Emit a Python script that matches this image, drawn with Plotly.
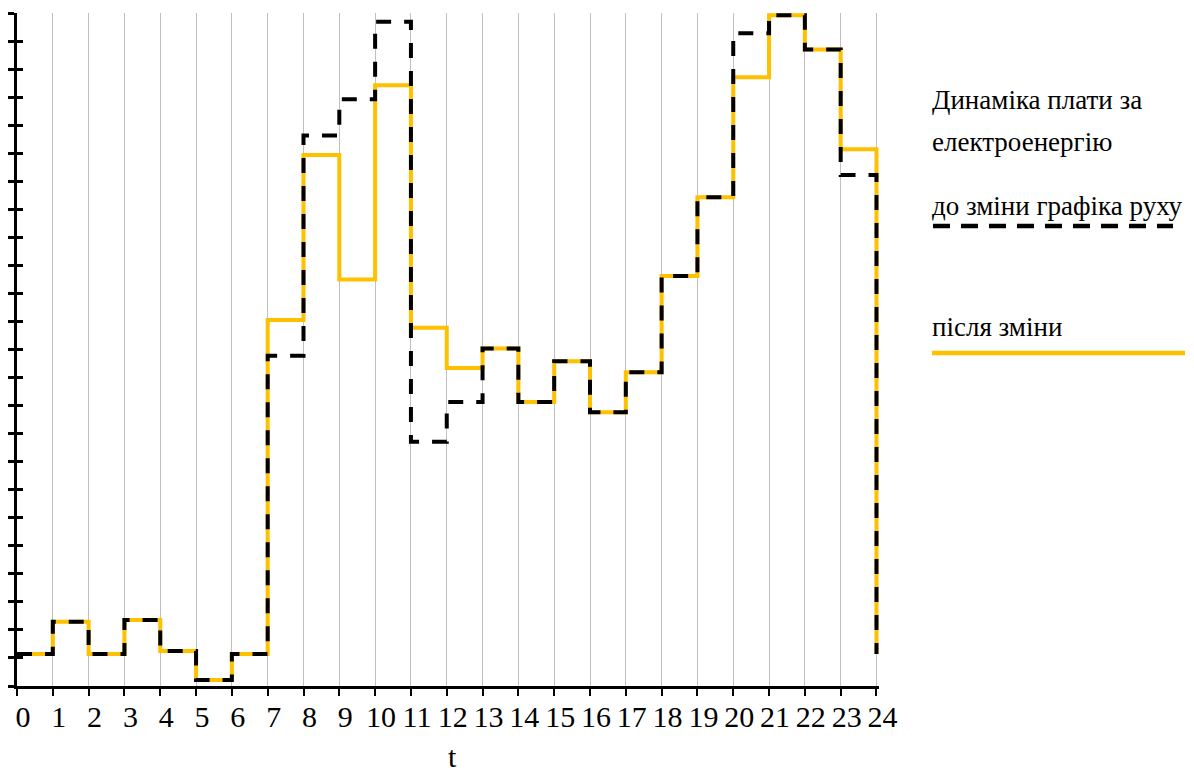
import plotly.graph_objects as go

hours = list(range(25))
tick_labels = [str(h) for h in hours]
before = [1.14, 2.29, 1.14, 2.35, 1.25, 0.21, 1.14, 11.78, 19.63, 20.92, 23.69, 8.71,
          10.13, 12.04, 10.13, 11.58, 9.76, 11.19, 14.62, 17.43, 23.28, 23.92, 22.70, 18.22, 1.14]
after = [1.14, 2.29, 1.14, 2.35, 1.25, 0.21, 1.14, 13.05, 18.94, 14.50, 21.42, 12.78,
         11.34, 12.04, 10.13, 11.58, 9.76, 11.19, 14.62, 17.43, 21.71, 23.92, 22.70, 19.14, 1.14]

x_title = "t"
legend_title = ["Динаміка плати за", "електроенергію"]
name_before = "до зміни графіка руху"
name_after = "після зміни"

FONT = "Liberation Serif, Times New Roman, serif"
ORANGE = "#FFC000"

OFF = 8                      # page body offset
X_MAX = 24.07                # a little room so the final drop at t=24 is not clipped
W, H = 1194 - OFF, 774 - OFF
PL, PT, PR, PB = 17, 13, 879, 686
L, T = PL - OFF, PT - OFF
R, B = W - (PR - OFF), H - (PB - OFF)
pw, ph = W - L - R, H - T - B


def px(x):
    return (x - PL) / pw


def py(y):
    return (PB - y) / ph


fig = go.Figure()
fig.add_trace(go.Scatter(x=hours, y=after, mode="lines", line_shape="hv",
                         line=dict(color=ORANGE, width=4), name=name_after,
                         showlegend=False))
fig.add_trace(go.Scatter(x=hours, y=before, mode="lines", line_shape="hv",
                         line=dict(color="black", width=4, dash="15px,13px"),
                         name=name_before, showlegend=False, yaxis="y2"))

fig.update_layout(
    width=W, height=H,
    margin=dict(l=L, r=R, t=T, b=B),
    paper_bgcolor="white", plot_bgcolor="white",
    font=dict(family=FONT, color="black"),
    xaxis=dict(range=[0, X_MAX], tickvals=hours, ticktext=tick_labels, tickangle=0,
               showgrid=True, gridcolor="#c0c0c0", gridwidth=1, zeroline=False,
               showline=True, linecolor="black", linewidth=3,
               ticks="outside", ticklen=7, tickwidth=2, tickcolor="black",
               tickfont=dict(family=FONT, size=30, color="black"),
               ticklabelshift=6, ticklabelstandoff=-5,
               automargin=False),
    yaxis=dict(range=[0, 24], dtick=1, tick0=0, showgrid=False, zeroline=False,
               showline=True, linecolor="black", linewidth=3,
               ticks="outside", ticklen=6, tickwidth=3, tickcolor="black",
               showticklabels=False, automargin=False),
    yaxis2=dict(range=[0, 24], dtick=1, tick0=0, overlaying="y", side="left",
                showgrid=False, zeroline=False, showline=False,
                ticks="inside", ticklen=6, tickwidth=3, tickcolor="black",
                showticklabels=False, automargin=False),
    showlegend=False,
)

# axis title "t" placed as in the reference
fig.add_annotation(xref="paper", yref="paper", x=px(452), y=py(756), text=x_title,
                   showarrow=False, xanchor="center", yanchor="middle",
                   font=dict(family=FONT, size=30, color="black"))

ann_font = dict(family=FONT, size=27, color="black")
for text, yy in [(legend_title[0], 100), (legend_title[1], 142),
                 (name_before, 206), (name_after, 327)]:
    fig.add_annotation(xref="paper", yref="paper", x=px(930), y=py(yy), text=text,
                       showarrow=False, xanchor="left", yanchor="middle", font=ann_font)
fig.add_shape(type="line", xref="paper", yref="paper", x0=px(933), x1=px(1173),
              y0=py(226), y1=py(226), line=dict(color="black", width=4.5, dash="17px,11px"))
fig.add_shape(type="line", xref="paper", yref="paper", x0=px(932), x1=px(1185),
              y0=py(353), y1=py(353), line=dict(color=ORANGE, width=4.5))

fig.write_html("out.html")
